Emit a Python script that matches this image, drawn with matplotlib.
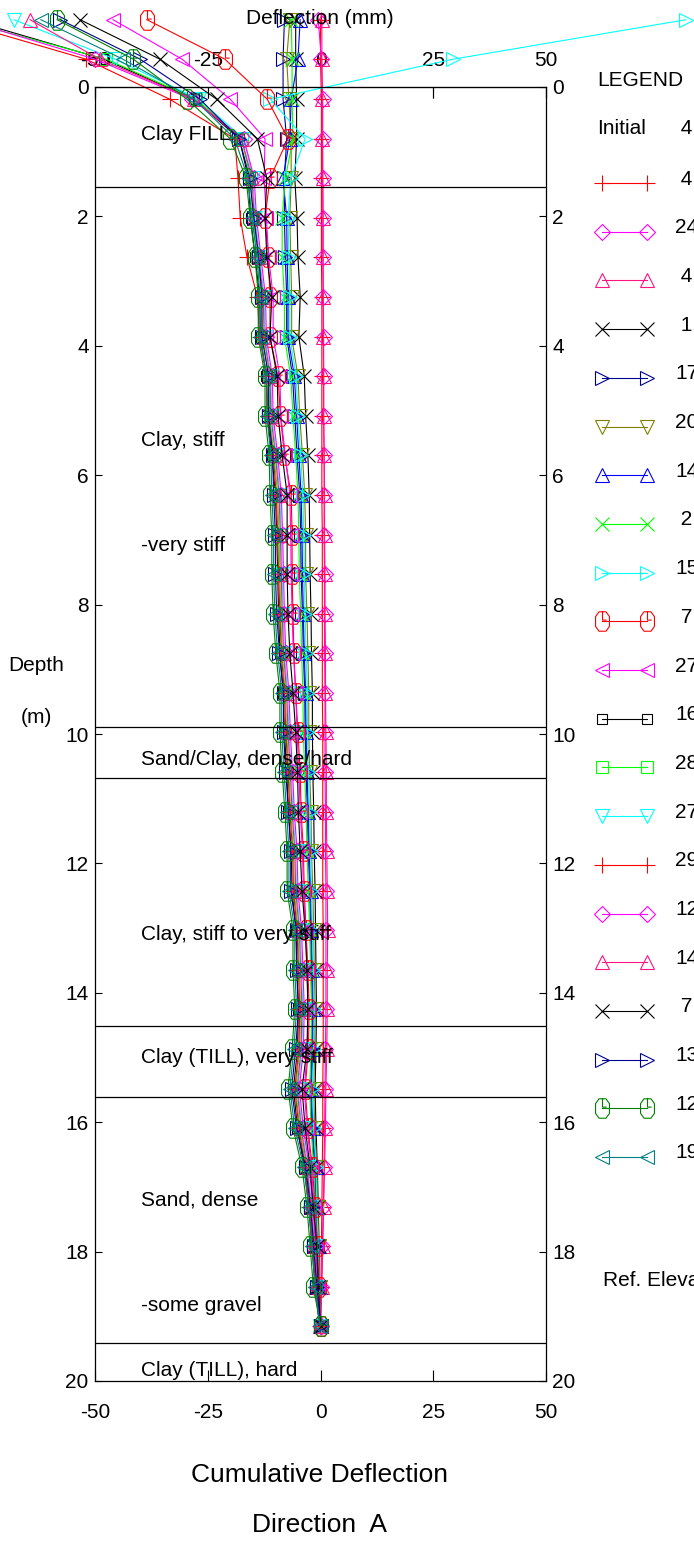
import matplotlib
matplotlib.use("Agg")
import matplotlib.pyplot as plt
from matplotlib.path import Path

# ==========================================
# Inclinometer - cumulative deflection, direction A
# ==========================================
plt.rcParams['font.family'] = ['Liberation Sans', 'DejaVu Sans']
plt.rcParams['axes.unicode_minus'] = False

# Depth of each reading (m)
depth = [-1.04, -0.43, 0.19, 0.80, 1.41, 2.02, 2.63, 3.24, 3.86, 4.47,
         5.08, 5.69, 6.30, 6.92, 7.53, 8.14, 8.75, 9.36, 9.97, 10.59,
         11.20, 11.81, 12.42, 13.03, 13.64, 14.25, 14.87, 15.48, 16.09, 16.70,
         17.31, 17.92, 18.54, 19.15]

# Cumulative deflection (mm) for every reading date
s01 = [0.0, 0.0, 0.2, 0.2, 0.2, 0.2, 0.2, 0.3, 0.3, 0.3,
       0.3, 0.3, 0.3, 0.4, 0.4, 0.4, 0.4, 0.4, 0.5, 0.5,
       0.5, 0.5, 0.5, 0.6, 0.6, 0.6, 0.6, 0.5, 0.5, 0.4,
       0.3, 0.2, 0.1, 0.0]
s02 = [-0.5, 0.2, 0.5, 0.5, 0.5, 0.6, 0.6, 0.6, 0.7, 0.7,
       0.7, 0.8, 0.8, 0.8, 0.9, 0.9, 0.9, 1.0, 1.0, 1.0,
       1.1, 1.1, 1.2, 1.2, 1.2, 1.2, 1.1, 1.0, 0.9, 0.8,
       0.6, 0.4, 0.2, 0.0]
s03 = [0.3, 0.3, 0.4, 0.4, 0.5, 0.5, 0.5, 0.6, 0.6, 0.7,
       0.7, 0.8, 0.9, 0.9, 1.0, 1.0, 1.1, 1.1, 1.2, 1.3,
       1.3, 1.4, 1.5, 1.6, 1.5, 1.5, 1.4, 1.2, 1.1, 0.9,
       0.7, 0.5, 0.3, 0.0]
s04 = [-5.5, -5.5, -5.3, -5.3, -5.7, -5.2, -5.0, -4.5, -4.8, -3.6,
       -3.3, -2.8, -2.5, -2.4, -2.3, -2.1, -2.0, -1.8, -1.8, -1.7,
       -1.5, -1.4, -1.2, -1.1, -1.0, -0.9, -1.0, -1.2, -1.0, -0.7,
       -0.5, -0.3, -0.2, 0.0]
s05 = [-8.0, -8.3, -8.3, -7.5, -8.0, -8.0, -7.8, -7.5, -7.5, -6.2,
       -5.7, -5.2, -4.6, -4.4, -4.3, -4.0, -3.8, -3.5, -3.4, -3.2,
       -2.9, -2.7, -2.4, -2.2, -2.0, -1.8, -1.9, -2.2, -1.9, -1.3,
       -1.0, -0.7, -0.4, 0.0]
s06 = [-6.8, -7.5, -7.0, -6.5, -6.5, -6.8, -6.6, -6.4, -6.4, -5.0,
       -4.6, -4.0, -3.5, -3.3, -3.3, -3.0, -2.8, -2.6, -2.6, -2.4,
       -2.1, -2.0, -1.7, -1.5, -1.4, -1.2, -1.3, -1.5, -1.3, -0.8,
       -0.6, -0.4, -0.2, 0.0]
s07 = [-4.5, -5.0, -6.5, -6.8, -8.3, -7.5, -7.4, -7.2, -7.2, -5.8,
       -5.3, -4.8, -4.3, -4.1, -4.0, -3.8, -3.6, -3.3, -3.2, -3.0,
       -2.7, -2.5, -2.2, -2.0, -1.8, -1.6, -1.7, -2.0, -1.7, -1.1,
       -0.9, -0.6, -0.3, 0.0]
s08 = [-6.5, -6.3, -6.3, -6.1, -7.8, -8.5, -8.5, -8.0, -8.0, -6.6,
       -6.1, -5.5, -5.0, -4.8, -4.7, -4.4, -4.2, -3.9, -3.8, -3.5,
       -3.2, -3.0, -2.7, -2.4, -2.2, -2.0, -2.1, -2.4, -2.1, -1.5,
       -1.1, -0.8, -0.4, 0.0]
s09 = [81.0, 29.4, -11.1, -3.4, -6.6, -7.2, -7.0, -6.8, -6.8, -5.4,
       -5.0, -4.4, -3.9, -3.7, -3.6, -3.4, -3.2, -2.9, -2.9, -2.7,
       -2.4, -2.2, -2.0, -1.8, -1.6, -1.4, -1.5, -1.8, -1.5, -1.0,
       -0.8, -0.5, -0.3, 0.0]
s10 = [-38.5, -21.2, -11.8, -7.2, -11.2, -12.3, -11.6, -11.2, -11.2, -9.4,
       -8.9, -8.0, -6.5, -6.3, -6.3, -6.1, -5.9, -5.5, -5.0, -4.5,
       -4.3, -3.8, -3.6, -3.2, -2.8, -2.5, -2.7, -3.4, -2.8, -1.8,
       -1.2, -0.7, -0.3, 0.0]
s11 = [-46.0, -30.7, -20.0, -12.3, -12.5, -12.0, -11.5, -10.5, -10.5, -9.0,
       -8.8, -7.8, -6.8, -6.6, -6.5, -6.3, -6.0, -5.5, -5.2, -4.8,
       -4.5, -4.0, -3.8, -3.3, -3.0, -2.7, -2.9, -3.6, -3.0, -2.0,
       -1.4, -0.9, -0.5, 0.0]
s12 = [-78.0, -48.0, -28.0, -18.0, -16.0, -15.5, -14.5, -13.5, -13.3, -12.0,
       -11.8, -10.8, -10.0, -9.7, -9.5, -9.3, -9.0, -8.3, -8.0, -7.5,
       -7.1, -6.5, -6.3, -5.5, -5.2, -4.9, -5.1, -6.0, -5.1, -3.6,
       -2.6, -1.9, -1.2, -0.2]
s13 = [-80.0, -47.5, -27.5, -17.5, -15.5, -15.0, -14.0, -13.0, -12.8, -11.5,
       -11.3, -10.3, -9.5, -9.2, -9.0, -8.8, -8.5, -7.8, -7.5, -7.0,
       -6.6, -6.0, -5.8, -5.0, -4.7, -4.4, -4.6, -5.5, -4.6, -3.2,
       -2.3, -1.6, -1.0, -0.2]
s14 = [-68.0, -45.5, -27.0, -17.0, -15.0, -14.5, -13.5, -12.5, -12.3, -11.0,
       -10.8, -9.8, -9.0, -8.7, -8.5, -8.3, -8.0, -7.3, -7.0, -6.5,
       -6.1, -5.5, -5.3, -4.5, -4.2, -3.9, -4.1, -5.0, -4.1, -2.8,
       -2.0, -1.3, -0.8, -0.1]
s15 = [-82.0, -52.0, -33.4, -19.0, -18.3, -17.8, -16.3, -14.0, -13.5, -12.0,
       -11.6, -10.5, -9.8, -9.5, -9.3, -9.0, -8.7, -8.0, -7.7, -7.2,
       -6.8, -6.2, -6.0, -5.2, -4.9, -4.6, -4.8, -5.7, -4.8, -3.4,
       -2.5, -1.7, -1.1, -0.2]
s16 = [-79.0, -50.0, -28.5, -17.0, -14.7, -14.2, -13.2, -12.2, -12.0, -10.7,
       -10.5, -9.5, -8.7, -8.4, -8.2, -8.0, -7.7, -7.0, -6.7, -6.2,
       -5.8, -5.2, -5.0, -4.2, -3.9, -3.6, -3.8, -4.7, -3.8, -2.5,
       -1.7, -1.1, -0.6, 0.0]
s17 = [-64.4, -49.0, -28.0, -17.5, -15.2, -14.7, -13.7, -12.7, -12.5, -11.2,
       -11.0, -10.0, -9.2, -8.9, -8.7, -8.5, -8.2, -7.5, -7.2, -6.7,
       -6.3, -5.7, -5.5, -4.7, -4.4, -4.1, -4.3, -5.2, -4.3, -3.0,
       -2.1, -1.4, -0.9, -0.1]
s18 = [-53.3, -35.6, -23.0, -14.0, -11.9, -12.3, -11.9, -10.8, -11.2, -9.6,
       -9.4, -8.5, -7.4, -7.4, -7.4, -7.2, -6.8, -6.1, -5.5, -5.1,
       -4.9, -4.5, -4.1, -3.4, -3.0, -2.8, -3.0, -4.1, -3.4, -2.3,
       -1.6, -0.8, -0.5, 0.0]
s19 = [-57.7, -40.0, -26.7, -18.0, -15.7, -14.8, -13.7, -13.0, -13.0, -11.5,
       -11.5, -10.6, -10.4, -10.0, -10.0, -9.7, -9.1, -8.2, -8.2, -7.7,
       -7.1, -6.6, -6.6, -5.3, -5.3, -4.9, -5.5, -6.4, -5.3, -3.3,
       -2.2, -1.5, -0.8, 0.0]
s20 = [-58.4, -41.5, -29.6, -20.0, -16.5, -15.6, -14.5, -13.8, -13.8, -12.3,
       -12.3, -11.4, -11.2, -10.8, -10.8, -10.5, -9.9, -9.0, -9.0, -8.5,
       -7.9, -7.4, -7.4, -6.1, -6.1, -5.7, -6.3, -7.2, -6.1, -4.1,
       -3.0, -2.3, -1.6, 0.0]
s21 = [-62.0, -43.8, -28.0, -19.0, -16.1, -15.2, -14.1, -13.4, -13.4, -11.9,
       -11.9, -11.0, -10.8, -10.4, -10.4, -10.1, -9.5, -8.6, -8.6, -8.1,
       -7.5, -7.0, -7.0, -5.7, -5.7, -5.3, -5.9, -6.8, -5.7, -3.7,
       -2.6, -1.9, -1.2, -0.1]

series = [s01, s02, s03, s04, s05, s06, s07, s08, s09, s10, s11,
          s12, s13, s14, s15, s16, s17, s18, s19, s20, s21]

# Legend labels (date text is cut by the right edge of the page)
labels = ["4", "24", "4", "1", "17", "20", "14", "2", "15", "7", "27",
          "16", "28", "27", "29", "12", "14", "7", "13", "12", "19"]

colors = ['#ff0000', '#ff00ff', '#ff1480', '#000000', '#000090', '#808000',
          '#0000ff', '#00ff00', '#00ffff', '#ff0000', '#ff00ff', '#000000',
          '#00ff00', '#00ffff', '#ff0000', '#ff00ff', '#ff1480', '#000000',
          '#000090', '#008000', '#008080']

# tall octagon with the little "clock hand" inside, like the logger software draws it
oct_verts = [(-0.5, -0.35), (-0.5, 0.35), (-0.25, 0.7), (0.25, 0.7), (0.5, 0.35),
             (0.5, -0.35), (0.25, -0.7), (-0.25, -0.7), (-0.5, -0.35),
             (0.0, 0.7), (0.0, 0.1), (0.3, 0.1)]
oct_codes = [Path.MOVETO] + [Path.LINETO] * 8 + [Path.MOVETO, Path.LINETO, Path.LINETO]
octagon = Path(oct_verts, oct_codes)

markers = ['+', 'D', '^', 'x', '>', 'v', '^', 'x', '>', octagon, '<',
           's', 's', 'v', '+', 'D', '^', 'x', '>', octagon, '<']
sizes = [11, 8, 10, 10, 10, 10, 10, 10, 10, 14, 10,
         7, 8, 10, 11, 8, 10, 10, 10, 14, 10]

# Soil layers
layer_bounds = [1.55, 9.89, 10.68, 14.51, 15.61, 19.41]
layer_text = ["Clay FILL", "Clay, stiff", "-very stiff", "Sand/Clay, dense/hard",
              "Clay, stiff to very stiff", "Clay (TILL), very stiff",
              "Sand, dense", "-some gravel", "Clay (TILL), hard"]
layer_text_depth = [0.74, 5.47, 7.08, 10.40, 13.10, 15.00, 17.20, 18.84, 19.83]

W, H = 694, 1541
fig = plt.figure(figsize=(W / 100, H / 100), dpi=100)
ax = fig.add_axes([95 / W, 1 - 1381 / H, 451 / W, 1294 / H])

for vals, c, m, s in zip(series, colors, markers, sizes):
    ax.plot(vals, depth, color=c, marker=m, ms=s, mfc='none',
            mec=c, mew=0.8, lw=0.8, clip_on=False)

for d in layer_bounds:
    ax.axhline(d, color='black', lw=0.9)
for txt, d in zip(layer_text, layer_text_depth):
    ax.text(-39.8, d, txt, fontsize=15, ha='left', va='center', zorder=5)

ax.set_xlim(-50, 50)
ax.set_ylim(20, 0)
ax.set_xticks([-50, -25, 0, 25, 50])
ax.set_yticks(range(0, 21, 2))
ax.tick_params(direction='in', top=True, right=True, labelright=True,
               labelsize=15)
ax.tick_params(axis='x', length=8, pad=16)
ax.tick_params(axis='y', length=5, pad=4.5)
for sp in ax.spines.values():
    sp.set_linewidth(0.9)

# top scale of the same deflection axis
top = ax.secondary_xaxis('top')
top.set_xticks([-50, -25, 0, 25, 50])
top.tick_params(direction='in', length=8, pad=12, labelsize=15)

# ==========================================
# Page texts and legend (pixel coordinates)
# ==========================================
ov = fig.add_axes([0, 0, 1, 1])
ov.set_xlim(0, W)
ov.set_ylim(H, 0)
ov.axis('off')

ov.text(320, 18, "Deflection (mm)", fontsize=15, ha='center', va='center')
ov.text(36, 665, "Depth", fontsize=15, ha='center', va='center')
ov.text(36, 717, "(m)", fontsize=15, ha='center', va='center')
ov.text(320, 1475, "Cumulative Deflection", fontsize=19, ha='center', va='center')
ov.text(320, 1525, "Direction  A", fontsize=19, ha='center', va='center')

ov.text(597, 80, "LEGEND", fontsize=15, ha='left', va='center')
ov.text(597, 128, "Initial", fontsize=15, ha='left', va='center')
ov.text(675, 128, " 4", fontsize=15, ha='left', va='center')
row0, row_step = 183, 48.7
for i, (lab, c, m, s) in enumerate(zip(labels, colors, markers, sizes)):
    y = row0 + i * row_step
    ov.plot([602, 647], [y, y], color=c, marker=m, ms=s, mfc='none',
            mec=c, mew=0.8, lw=0.8)
    txt = lab if len(lab) > 1 else " " + lab
    ov.text(675, y - 4, txt, fontsize=15, ha='left', va='center')
ov.text(603, 1280, "Ref. Elevation", fontsize=15, ha='left', va='center')

fig.savefig("out.png", dpi=100)
plt.close(fig)
